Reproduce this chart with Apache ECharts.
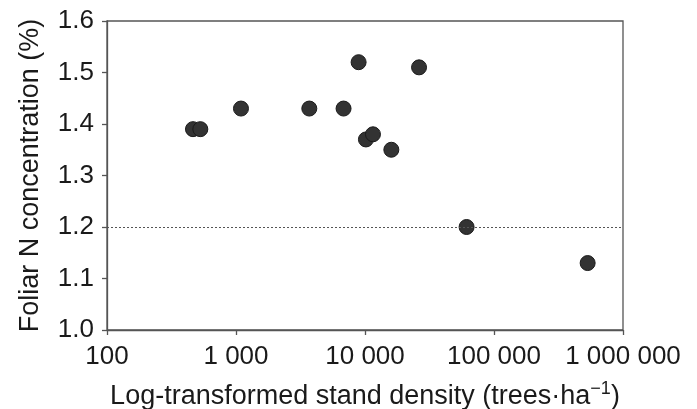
<!DOCTYPE html>
<html><head><meta charset="utf-8">
<script src="https://cdn.jsdelivr.net/npm/echarts@6/dist/echarts.min.js"></script>
<style>html,body{margin:0;padding:0;background:#fff}#c{width:697px;height:409px}</style>
</head><body><div id="c"></div>
<script>
const density = [464, 529, 1093, 3700, 6820, 8920, 10170, 11530, 16000, 26240, 61300, 532000];
const foliarN = [1.39, 1.39, 1.43, 1.43, 1.43, 1.52, 1.37, 1.38, 1.35, 1.51, 1.20, 1.13];
const thresholdN = 1.2;
const yMin = 1.0, yMax = 1.6, yStep = 0.1;
const xMin = 100, xMax = 1000000;

const points = density.map((d, i) => [d, foliarN[i]]);
const fmtThousands = v => String(Math.round(v)).replace(/\B(?=(\d{3})+(?!\d))/g, ' ');
const font = 'Liberation Sans, Arial, sans-serif';
const axisCol = '#555';
const textCol = '#1a1a1a';

const chart = echarts.init(document.getElementById('c'));
chart.setOption({
  animation: false,
  grid: { left: 107, right: 74, top: 21, bottom: 79, containLabel: false, outerBoundsMode: 'none', show: true, borderColor: axisCol, borderWidth: 1.3, backgroundColor: 'transparent' },
  xAxis: {
    type: 'log', logBase: 10, min: xMin, max: xMax,
    name: '{m|Log-transformed stand density (trees·ha}{s|−1}{m|)}',
    nameLocation: 'middle', nameGap: 50,
    nameTextStyle: { rich: { m: { fontSize: 27, fontFamily: font, color: textCol, lineHeight: 30, verticalAlign: 'bottom' }, s: { fontSize: 18, fontFamily: font, color: textCol, lineHeight: 30, verticalAlign: 'top' } } },
    axisLine: { show: true, lineStyle: { color: axisCol, width: 1.3 } },
    axisTick: { show: true, inside: false, length: 5, lineStyle: { color: axisCol, width: 1.3 } },
    minorTick: { show: false },
    splitLine: { show: false },
    axisLabel: { fontSize: 26, fontFamily: font, color: textCol, margin: 14, formatter: fmtThousands }
  },
  yAxis: {
    type: 'value', min: yMin, max: yMax, interval: yStep,
    name: 'Foliar N concentration (%)', nameLocation: 'middle', nameGap: 63,
    nameTextStyle: { fontSize: 27, fontFamily: font, color: textCol },
    axisLine: { show: true, lineStyle: { color: axisCol, width: 1.3 } },
    axisTick: { show: true, inside: false, length: 5, lineStyle: { color: axisCol, width: 1.3 } },
    splitLine: { show: false },
    axisLabel: { fontSize: 26, fontFamily: font, color: textCol, margin: 13, formatter: v => v.toFixed(1) }
  },
  series: [{
    type: 'scatter', data: points, symbolSize: 15,
    itemStyle: { color: '#333', borderColor: '#1a1a1a', borderWidth: 1, opacity: 1 },
    markLine: {
      silent: true, symbol: 'none', label: { show: false },
      lineStyle: { type: [2, 2], color: '#555', width: 1.2 },
      data: [{ yAxis: thresholdN }]
    },
    z: 3
  }]
});
</script></body></html>
